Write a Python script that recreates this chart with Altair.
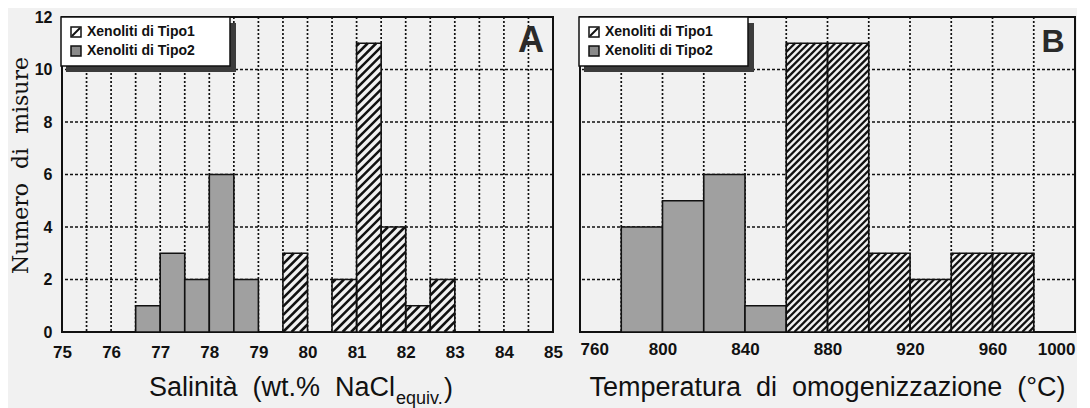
import math
import altair as alt
import pandas as pd

# ---------------- data ----------------
series_names = ["Xenoliti di Tipo1", "Xenoliti di Tipo2"]

# Panel A: salinity (wt.% NaCl equiv.), bin width 0.5
a_bin_width = 0.5
a_type1_start = [79.5, 80.5, 81.0, 81.5, 82.0, 82.5]
a_type1_count = [3, 2, 11, 4, 1, 2]
a_type2_start = [76.5, 77.0, 77.5, 78.0, 78.5]
a_type2_count = [1, 3, 2, 6, 2]
a_tick_labels = [75, 76, 77, 78, 79, 80, 81, 82, 83, 84, 85]
a_grid_x = [75.5, 76.0, 76.5, 77.0, 77.5, 78.0, 78.5, 79.0, 79.5, 80.0,
            80.5, 81.0, 81.5, 82.0, 82.5, 83.0, 83.5, 84.0, 84.5]

# Panel B: homogenisation temperature (°C), bin width 20
b_bin_width = 20
b_type1_start = [860, 880, 900, 920, 940, 960]
b_type1_count = [11, 11, 3, 2, 3, 3]
b_type2_start = [780, 800, 820, 840]
b_type2_count = [4, 5, 6, 1]
b_tick_labels = [760, 800, 840, 880, 920, 960, 1000]
b_grid_x = [780, 800, 820, 840, 860, 880, 900, 920, 940, 960, 980]

y_tick_labels = [0, 2, 4, 6, 8, 10, 12]
y_grid = [2, 4, 6, 8, 10]

# ---------------- style ----------------
BG = "#f1f1f1"
GREY = "#a0a0a0"
INK = "#111111"
SANS = "Liberation Sans"
SERIF = "DejaVu Serif"
H = 315
A_W = 491
B_W = 495


def bars_df(starts, counts, bw):
    return pd.DataFrame({"start": starts, "end": [s + bw for s in starts],
                         "count": counts})


def hatch_df(starts, counts, bw, dmin, kx, ky, sp):
    rows = []
    for s, c in zip(starts, counts):
        x0p = (s - dmin) * kx
        x1p = (s + bw - dmin) * kx
        h = c * ky
        kmin = math.ceil((0 - x1p) / sp)
        kmax = math.floor((h - x0p) / sp)
        for k in range(kmin, kmax + 1):
            off = k * sp
            pa = max(x0p, -off)
            pb = min(x1p, h - off)
            if pb - pa > 0.4:
                rows.append({"hx": pa / kx + dmin, "hx2": pb / kx + dmin,
                             "hy": (pa + off) / ky, "hy2": (pb + off) / ky})
    return pd.DataFrame(rows)


def one():
    return alt.Data(values=[{"k": 1}])


def panel(t1s, t1c, t2s, t2c, bw, xdom, ticks, gridx, W, letter, letter_size,
          hatch_sp, hatch_sw, title_layers, show_y, label_pad, flush):
    xscale = alt.Scale(domain=xdom, nice=False, zero=False)
    yscale = alt.Scale(domain=[0, 12], nice=False)
    xaxis = alt.Axis(values=ticks, format="d", labelFont=SANS, labelFontSize=17,
                     labelFontWeight="bold", labelColor=INK, ticks=False,
                     domain=False, grid=False, labelPadding=label_pad,
                     labelFlush=flush, title=None)
    if show_y:
        yaxis = alt.Axis(values=y_tick_labels, labelFont=SANS, labelFontSize=16,
                         labelFontWeight="bold", labelColor=INK, ticks=False,
                         domain=False, grid=False, labelPadding=10,
                         title="Numero\u00a0 di\u00a0 misure", titleFont=SERIF,
                         titleFontSize=22, titleFontWeight="normal",
                         titleColor=INK, titlePadding=2, titleY=148)
    else:
        yaxis = None

    kx = W / (xdom[1] - xdom[0])
    ky = H / 12.0

    gx = alt.Chart(pd.DataFrame({"gx": gridx})).mark_rule(
        color=INK, strokeWidth=1.7, strokeDash=[2, 2]).encode(
        x=alt.X("gx:Q", scale=xscale, axis=xaxis))
    gy = alt.Chart(pd.DataFrame({"gy": y_grid})).mark_rule(
        color=INK, strokeWidth=1.7, strokeDash=[3, 2]).encode(
        y=alt.Y("gy:Q", scale=yscale, axis=yaxis))

    d2 = bars_df(t2s, t2c, bw)
    grey = alt.Chart(d2).mark_rect(fill=GREY, stroke=INK, strokeWidth=1.6).encode(
        x=alt.X("start:Q", scale=xscale), x2="end:Q",
        y=alt.Y("count:Q", scale=yscale), y2=alt.datum(0))

    d1 = bars_df(t1s, t1c, bw)
    white = alt.Chart(d1).mark_rect(fill=BG, strokeWidth=0).encode(
        x=alt.X("start:Q", scale=xscale), x2="end:Q",
        y=alt.Y("count:Q", scale=yscale), y2=alt.datum(0))
    hd = hatch_df(t1s, t1c, bw, xdom[0], kx, ky, hatch_sp)
    hatch = alt.Chart(hd).mark_rule(color=INK, strokeWidth=hatch_sw).encode(
        x=alt.X("hx:Q", scale=xscale), x2="hx2:Q",
        y=alt.Y("hy:Q", scale=yscale), y2="hy2:Q")
    outline = alt.Chart(d1).mark_rect(fillOpacity=0, stroke=INK, strokeWidth=1.6).encode(
        x=alt.X("start:Q", scale=xscale), x2="end:Q",
        y=alt.Y("count:Q", scale=yscale), y2=alt.datum(0))

    # legend box with drop shadow
    shadow = alt.Chart(one()).mark_rect(fill="#3c3c3c").encode(
        x=alt.value(4), x2=alt.value(174), y=alt.value(6), y2=alt.value(55))
    box = alt.Chart(one()).mark_rect(fill="white", stroke=INK, strokeWidth=1.5).encode(
        x=alt.value(-1), x2=alt.value(168), y=alt.value(0), y2=alt.value(49))
    sw1 = alt.Chart(one()).mark_rect(fill="white", stroke=INK, strokeWidth=1.5).encode(
        x=alt.value(9), x2=alt.value(19), y=alt.value(10), y2=alt.value(20))
    sw1d = alt.Chart(one()).mark_rule(color=INK, strokeWidth=2).encode(
        x=alt.value(10), x2=alt.value(18), y=alt.value(19), y2=alt.value(11))
    sw2 = alt.Chart(one()).mark_rect(fill="#8a8a8a", stroke=INK, strokeWidth=1.5).encode(
        x=alt.value(9), x2=alt.value(19), y=alt.value(29), y2=alt.value(39))
    lt1 = alt.Chart(one()).mark_text(align="left", baseline="middle", font=SANS,
                                     fontSize=14, fontWeight="bold", color=INK).encode(
        x=alt.value(25), y=alt.value(15), text=alt.value(series_names[0]))
    lt2 = alt.Chart(one()).mark_text(align="left", baseline="middle", font=SANS,
                                     fontSize=14, fontWeight="bold", color=INK).encode(
        x=alt.value(25), y=alt.value(34), text=alt.value(series_names[1]))

    let = alt.Chart(one()).mark_text(align="center", baseline="alphabetic", font=SANS,
                                     fontSize=letter_size, fontWeight="bold",
                                     color="#2a2a2a").encode(
        x=alt.value(W - 22), y=alt.value(35), text=alt.value(letter))

    layers = [gx, gy, grey, white, hatch, outline, shadow, box, sw1, sw1d, sw2,
              lt1, lt2, let] + title_layers
    return alt.layer(*layers).properties(width=W, height=H)


# axis titles drawn as text (subscript needed in panel A)
a_title = [
    alt.Chart(one()).mark_text(align="right", baseline="alphabetic", font=SANS,
                               fontSize=27, color=INK).encode(
        x=alt.value(333), y=alt.value(379),
        text=alt.value("Salinità\u00a0 (wt.%\u00a0 NaCl")),
    alt.Chart(one()).mark_text(align="left", baseline="alphabetic", font=SANS,
                               fontSize=18, color=INK).encode(
        x=alt.value(334), y=alt.value(387), text=alt.value("equiv.")),
    alt.Chart(one()).mark_text(align="left", baseline="alphabetic", font=SANS,
                               fontSize=27, color=INK).encode(
        x=alt.value(382), y=alt.value(380), text=alt.value(")")),
]
b_title = [
    alt.Chart(one()).mark_text(align="center", baseline="alphabetic", font=SANS,
                               fontSize=27, color=INK).encode(
        x=alt.value(B_W / 2), y=alt.value(379),
        text=alt.value("Temperatura\u00a0 di\u00a0 omogenizzazione\u00a0 (°C)")),
]

pa = panel(a_type1_start, a_type1_count, a_type2_start, a_type2_count, a_bin_width,
           [75, 85], a_tick_labels, a_grid_x, A_W, "A", 36, 8.5, 2.5, a_title,
           True, 12, False)
pb = panel(b_type1_start, b_type1_count, b_type2_start, b_type2_count, b_bin_width,
           [760, 1000], b_tick_labels, b_grid_x, B_W, "B", 32, 6.7, 2.3, b_title,
           False, 9, True)

chart = alt.hconcat(pa, pb, spacing=13).properties(
    padding={"left": 0, "top": 0, "right": 0, "bottom": 0},
    background=BG,
).configure_view(stroke=INK, strokeWidth=2)

chart.save("out.html", embed_options={"renderer": "svg", "actions": False})
